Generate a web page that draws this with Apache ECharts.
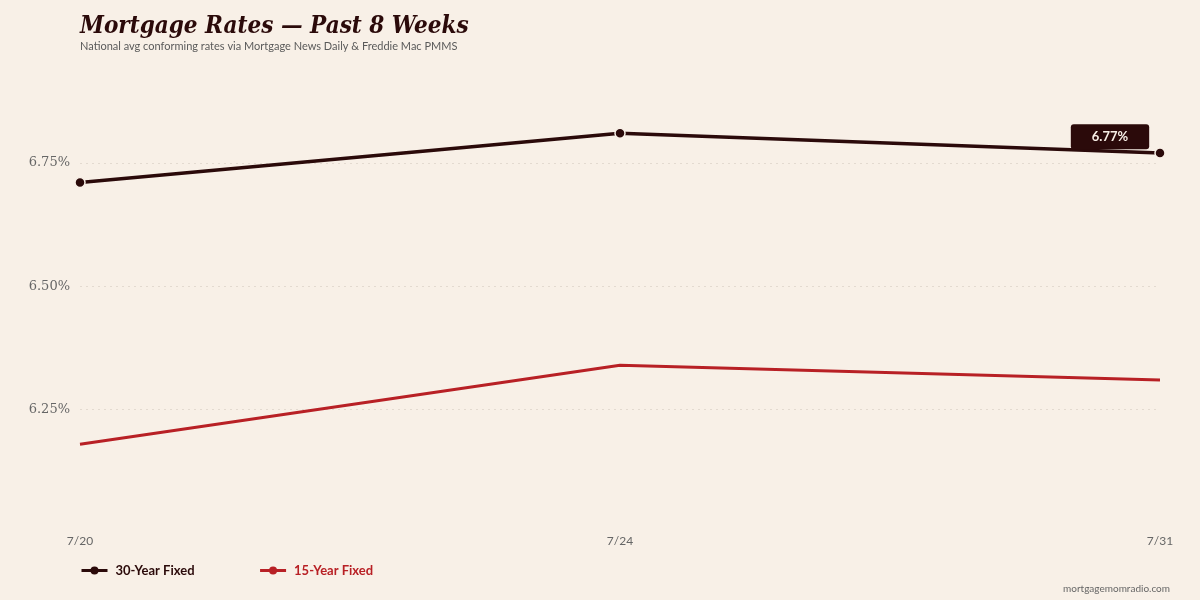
<!DOCTYPE html>
<html>
<head>
<meta charset="utf-8">
<title>Mortgage Rates</title>
<script src="https://cdn.jsdelivr.net/npm/echarts@6/dist/echarts.min.js"></script>
<style>
    html, body { margin: 0; padding: 0; background: #f8f0e7; }
    #chart { width: 1200px; height: 600px; }
</style>
</head>
<body>
<div id="chart"></div>
<script>
// 数据
var weeks = ['7/20', '7/24', '7/31'];
var fixed30 = [6.71, 6.81, 6.77];
var fixed15 = [6.18, 6.34, 6.31];

var dark = '#2b0a0a';
var red = '#b82025';
var bg = '#f8f0e7';

var chart = echarts.init(document.getElementById('chart'));

// 最后一个点加标签
var fixed30Data = fixed30.map(function (v, i) {
    if (i !== fixed30.length - 1) return v;
    return {
        value: v,
        label: {
            show: true,
            position: 'top',
            offset: [-50, 7],
            formatter: function (p) { return p.value.toFixed(2) + '%'; },
            backgroundColor: dark,
            color: '#f8f0e7',
            fontFamily: 'Lato',
            fontWeight: 'bold',
            fontSize: 13,
            padding: [6, 21, 6, 21],
            borderRadius: 3
        }
    };
});

var option = {
    backgroundColor: bg,
    animation: false,
    title: [{
        text: 'Mortgage Rates — Past 8 Weeks',
        left: 80,
        top: 15,
        padding: 0,
        textStyle: {
            fontFamily: '"DejaVu Serif Condensed", "DejaVu Serif"',
            fontStyle: 'italic',
            fontWeight: 'bold',
            fontSize: 24,
            color: dark
        }
    }, {
        text: 'National avg conforming rates via Mortgage News Daily & Freddie Mac PMMS',
        left: 80,
        top: 41,
        padding: 0,
        textStyle: {
            fontFamily: 'Lato',
            fontWeight: 'normal',
            fontSize: 11,
            color: '#5a5a5a'
        }
    }, {
        text: 'mortgagemomradio.com',
        right: 30,
        top: 584,
        padding: 0,
        textStyle: {
            fontFamily: 'Lato',
            fontWeight: 'normal',
            fontSize: 10,
            color: '#666'
        }
    }],
    legend: {
        left: 80,
        top: 564,
        padding: 0,
        itemGap: 64,
        itemWidth: 26,
        itemHeight: 10,
        lineStyle: { width: 3 },
        itemStyle: { borderWidth: 0 },
        data: [
            { name: '30-Year Fixed', textStyle: { color: dark } },
            { name: '15-Year Fixed', textStyle: { color: red } }
        ],
        textStyle: {
            fontFamily: 'Lato',
            fontWeight: 'bold',
            fontSize: 13,
            padding: [0, 0, 0, 3]
        }
    },
    grid: {
        left: 80,
        right: 40,
        top: 39.5,
        bottom: 67
    },
    xAxis: {
        type: 'category',
        boundaryGap: false,
        data: weeks,
        axisLine: { show: false },
        axisTick: { show: false },
        axisLabel: {
            margin: 2,
            fontFamily: 'Lato',
            fontSize: 12,
            color: '#666'
        },
        splitLine: { show: false }
    },
    yAxis: {
        type: 'value',
        min: 6.0,
        max: 7.0,
        interval: 0.25,
        axisLine: { show: false },
        axisTick: { show: false },
        axisLabel: {
            margin: 10,
            showMinLabel: false,
            showMaxLabel: false,
            fontFamily: 'DejaVu Serif',
            fontSize: 13,
            color: '#666',
            formatter: function (v) { return v.toFixed(2) + '%'; }
        },
        splitLine: {
            show: true,
            showMinLine: false,
            showMaxLine: false,
            lineStyle: {
                color: '#e3dad0',
                type: [2, 4],
                width: 1
            }
        }
    },
    series: [{
        name: '30-Year Fixed',
        type: 'line',
        data: fixed30Data,
        symbol: 'circle',
        symbolSize: 10,
        lineStyle: { color: dark, width: 3.5 },
        itemStyle: { color: dark, borderColor: bg, borderWidth: 1.5 },
        z: 3
    }, {
        name: '15-Year Fixed',
        type: 'line',
        data: fixed15,
        symbol: 'circle',
        symbolSize: 10,
        showSymbol: false,
        lineStyle: { color: red, width: 3 },
        itemStyle: { color: red, borderColor: bg, borderWidth: 1.5 }
    }]
};

chart.setOption(option);
</script>
</body>
</html>
